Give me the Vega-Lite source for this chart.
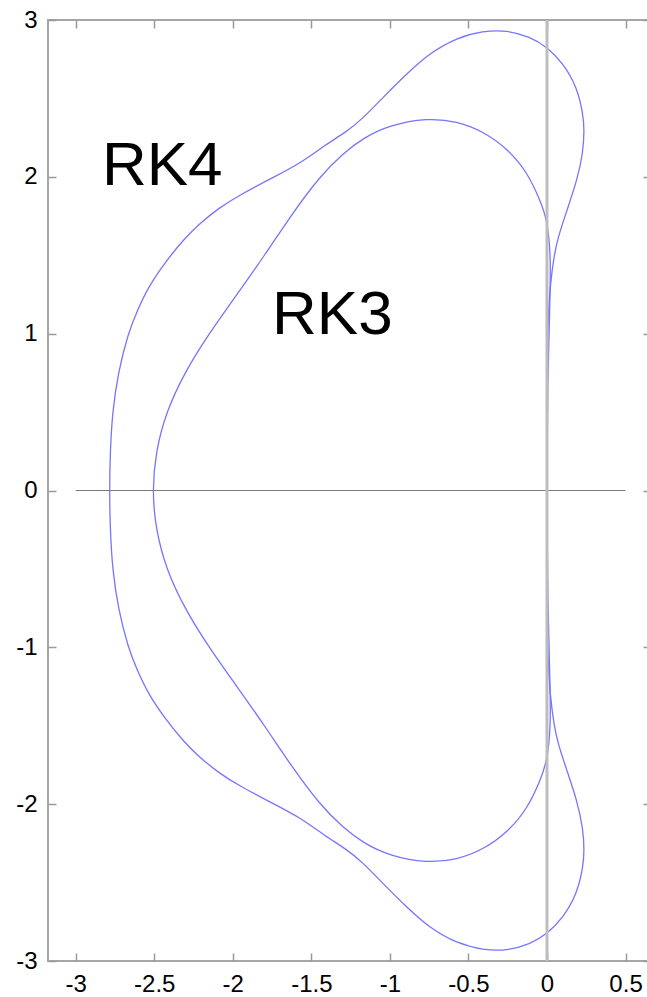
{
  "$schema": "https://vega.github.io/schema/vega-lite/v6.json",
  "width": 603,
  "height": 941,
  "autosize": "none",
  "padding": {"left": 48, "top": 20, "right": 0, "bottom": 36},
  "background": "white",
  "config": {
    "view": {"stroke": "#a6a6a6", "strokeWidth": 2},
    "axis": {"grid": false, "domain": false, "tickColor": "#999999", "tickWidth": 1.5, "tickSize": -8, "labelFont": "Liberation Sans", "labelFontSize": 24, "labelColor": "#000000", "labelFlush": false, "labelOverlap": false, "title": null}
  },
  "datasets": {
    "curves": [
      {"curve": "RK4", "i": 0, "x": 0, "y": 0},
      {"curve": "RK4", "i": 1, "x": 0.0005, "y": -0.5},
      {"curve": "RK4", "i": 2, "x": 0.002, "y": -0.8},
      {"curve": "RK4", "i": 3, "x": 0.006, "y": -1.084},
      {"curve": "RK4", "i": 4, "x": 0.019, "y": -1.295},
      {"curve": "RK4", "i": 5, "x": 0.045, "y": -1.5},
      {"curve": "RK4", "i": 6, "x": 0.07, "y": -1.614},
      {"curve": "RK4", "i": 7, "x": 0.127, "y": -1.786},
      {"curve": "RK4", "i": 8, "x": 0.191, "y": -1.977},
      {"curve": "RK4", "i": 9, "x": 0.229, "y": -2.149},
      {"curve": "RK4", "i": 10, "x": 0.238, "y": -2.3},
      {"curve": "RK4", "i": 11, "x": 0.229, "y": -2.404},
      {"curve": "RK4", "i": 12, "x": 0.191, "y": -2.572},
      {"curve": "RK4", "i": 13, "x": 0.102, "y": -2.725},
      {"curve": "RK4", "i": 14, "x": 0, "y": -2.828},
      {"curve": "RK4", "i": 15, "x": -0.108, "y": -2.893},
      {"curve": "RK4", "i": 16, "x": -0.255, "y": -2.935},
      {"curve": "RK4", "i": 17, "x": -0.407, "y": -2.93},
      {"curve": "RK4", "i": 18, "x": -0.573, "y": -2.888},
      {"curve": "RK4", "i": 19, "x": -0.745, "y": -2.79},
      {"curve": "RK4", "i": 20, "x": -0.891, "y": -2.659},
      {"curve": "RK4", "i": 21, "x": -1.044, "y": -2.506},
      {"curve": "RK4", "i": 22, "x": -1.178, "y": -2.366},
      {"curve": "RK4", "i": 23, "x": -1.28, "y": -2.285},
      {"curve": "RK4", "i": 24, "x": -1.41, "y": -2.204},
      {"curve": "RK4", "i": 25, "x": -1.572, "y": -2.085},
      {"curve": "RK4", "i": 26, "x": -1.744, "y": -1.996},
      {"curve": "RK4", "i": 27, "x": -1.964, "y": -1.88},
      {"curve": "RK4", "i": 28, "x": -2.09, "y": -1.8},
      {"curve": "RK4", "i": 29, "x": -2.209, "y": -1.703},
      {"curve": "RK4", "i": 30, "x": -2.314, "y": -1.6},
      {"curve": "RK4", "i": 31, "x": -2.434, "y": -1.45},
      {"curve": "RK4", "i": 32, "x": -2.536, "y": -1.3},
      {"curve": "RK4", "i": 33, "x": -2.607, "y": -1.15},
      {"curve": "RK4", "i": 34, "x": -2.667, "y": -1.0},
      {"curve": "RK4", "i": 35, "x": -2.73, "y": -0.75},
      {"curve": "RK4", "i": 36, "x": -2.766, "y": -0.5},
      {"curve": "RK4", "i": 37, "x": -2.78, "y": -0.25},
      {"curve": "RK4", "i": 38, "x": -2.785, "y": 0},
      {"curve": "RK4", "i": 39, "x": -2.78, "y": 0.25},
      {"curve": "RK4", "i": 40, "x": -2.766, "y": 0.5},
      {"curve": "RK4", "i": 41, "x": -2.73, "y": 0.75},
      {"curve": "RK4", "i": 42, "x": -2.667, "y": 1.0},
      {"curve": "RK4", "i": 43, "x": -2.607, "y": 1.15},
      {"curve": "RK4", "i": 44, "x": -2.536, "y": 1.3},
      {"curve": "RK4", "i": 45, "x": -2.434, "y": 1.45},
      {"curve": "RK4", "i": 46, "x": -2.314, "y": 1.6},
      {"curve": "RK4", "i": 47, "x": -2.209, "y": 1.703},
      {"curve": "RK4", "i": 48, "x": -2.09, "y": 1.8},
      {"curve": "RK4", "i": 49, "x": -1.964, "y": 1.88},
      {"curve": "RK4", "i": 50, "x": -1.744, "y": 1.996},
      {"curve": "RK4", "i": 51, "x": -1.572, "y": 2.085},
      {"curve": "RK4", "i": 52, "x": -1.41, "y": 2.204},
      {"curve": "RK4", "i": 53, "x": -1.28, "y": 2.285},
      {"curve": "RK4", "i": 54, "x": -1.178, "y": 2.366},
      {"curve": "RK4", "i": 55, "x": -1.044, "y": 2.506},
      {"curve": "RK4", "i": 56, "x": -0.891, "y": 2.659},
      {"curve": "RK4", "i": 57, "x": -0.745, "y": 2.79},
      {"curve": "RK4", "i": 58, "x": -0.573, "y": 2.888},
      {"curve": "RK4", "i": 59, "x": -0.407, "y": 2.93},
      {"curve": "RK4", "i": 60, "x": -0.255, "y": 2.935},
      {"curve": "RK4", "i": 61, "x": -0.108, "y": 2.893},
      {"curve": "RK4", "i": 62, "x": 0, "y": 2.828},
      {"curve": "RK4", "i": 63, "x": 0.102, "y": 2.725},
      {"curve": "RK4", "i": 64, "x": 0.191, "y": 2.572},
      {"curve": "RK4", "i": 65, "x": 0.229, "y": 2.404},
      {"curve": "RK4", "i": 66, "x": 0.238, "y": 2.3},
      {"curve": "RK4", "i": 67, "x": 0.229, "y": 2.149},
      {"curve": "RK4", "i": 68, "x": 0.191, "y": 1.977},
      {"curve": "RK4", "i": 69, "x": 0.127, "y": 1.786},
      {"curve": "RK4", "i": 70, "x": 0.07, "y": 1.614},
      {"curve": "RK4", "i": 71, "x": 0.045, "y": 1.5},
      {"curve": "RK4", "i": 72, "x": 0.019, "y": 1.295},
      {"curve": "RK4", "i": 73, "x": 0.006, "y": 1.084},
      {"curve": "RK4", "i": 74, "x": 0.002, "y": 0.8},
      {"curve": "RK4", "i": 75, "x": 0.0005, "y": 0.5},
      {"curve": "RK4", "i": 76, "x": 0, "y": 0},
      {"curve": "RK3", "i": 0, "x": 0, "y": 0},
      {"curve": "RK3", "i": 1, "x": 0.002, "y": -0.4},
      {"curve": "RK3", "i": 2, "x": 0.006, "y": -0.7},
      {"curve": "RK3", "i": 3, "x": 0.012, "y": -0.95},
      {"curve": "RK3", "i": 4, "x": 0.018, "y": -1.2},
      {"curve": "RK3", "i": 5, "x": 0.025, "y": -1.5},
      {"curve": "RK3", "i": 6, "x": 0, "y": -1.732},
      {"curve": "RK3", "i": 7, "x": -0.045, "y": -1.852},
      {"curve": "RK3", "i": 8, "x": -0.124, "y": -2.027},
      {"curve": "RK3", "i": 9, "x": -0.248, "y": -2.176},
      {"curve": "RK3", "i": 10, "x": -0.4, "y": -2.287},
      {"curve": "RK3", "i": 11, "x": -0.573, "y": -2.355},
      {"curve": "RK3", "i": 12, "x": -0.764, "y": -2.375},
      {"curve": "RK3", "i": 13, "x": -0.999, "y": -2.33},
      {"curve": "RK3", "i": 14, "x": -1.166, "y": -2.25},
      {"curve": "RK3", "i": 15, "x": -1.299, "y": -2.149},
      {"curve": "RK3", "i": 16, "x": -1.449, "y": -2.0},
      {"curve": "RK3", "i": 17, "x": -1.632, "y": -1.75},
      {"curve": "RK3", "i": 18, "x": -1.797, "y": -1.5},
      {"curve": "RK3", "i": 19, "x": -1.973, "y": -1.25},
      {"curve": "RK3", "i": 20, "x": -2.152, "y": -1.0},
      {"curve": "RK3", "i": 21, "x": -2.308, "y": -0.75},
      {"curve": "RK3", "i": 22, "x": -2.424, "y": -0.5},
      {"curve": "RK3", "i": 23, "x": -2.49, "y": -0.25},
      {"curve": "RK3", "i": 24, "x": -2.5127, "y": 0},
      {"curve": "RK3", "i": 25, "x": -2.49, "y": 0.25},
      {"curve": "RK3", "i": 26, "x": -2.424, "y": 0.5},
      {"curve": "RK3", "i": 27, "x": -2.308, "y": 0.75},
      {"curve": "RK3", "i": 28, "x": -2.152, "y": 1.0},
      {"curve": "RK3", "i": 29, "x": -1.973, "y": 1.25},
      {"curve": "RK3", "i": 30, "x": -1.797, "y": 1.5},
      {"curve": "RK3", "i": 31, "x": -1.632, "y": 1.75},
      {"curve": "RK3", "i": 32, "x": -1.449, "y": 2.0},
      {"curve": "RK3", "i": 33, "x": -1.299, "y": 2.149},
      {"curve": "RK3", "i": 34, "x": -1.166, "y": 2.25},
      {"curve": "RK3", "i": 35, "x": -0.999, "y": 2.33},
      {"curve": "RK3", "i": 36, "x": -0.764, "y": 2.375},
      {"curve": "RK3", "i": 37, "x": -0.573, "y": 2.355},
      {"curve": "RK3", "i": 38, "x": -0.4, "y": 2.287},
      {"curve": "RK3", "i": 39, "x": -0.248, "y": 2.176},
      {"curve": "RK3", "i": 40, "x": -0.124, "y": 2.027},
      {"curve": "RK3", "i": 41, "x": -0.045, "y": 1.852},
      {"curve": "RK3", "i": 42, "x": 0, "y": 1.732},
      {"curve": "RK3", "i": 43, "x": 0.025, "y": 1.5},
      {"curve": "RK3", "i": 44, "x": 0.018, "y": 1.2},
      {"curve": "RK3", "i": 45, "x": 0.012, "y": 0.95},
      {"curve": "RK3", "i": 46, "x": 0.006, "y": 0.7},
      {"curve": "RK3", "i": 47, "x": 0.002, "y": 0.4},
      {"curve": "RK3", "i": 48, "x": 0, "y": 0}
    ],
    "vline": [{"x": 0, "y": -3, "y2": 3}],
    "hline": [{"x": -3, "x2": 0.5, "y": 0}],
    "labels": [
      {"label": "RK4", "x": -2.833, "y": 1.945},
      {"label": "RK3", "x": -1.75, "y": 0.995}
    ]
  },
  "layer": [
    {
      "data": {"name": "curves"},
      "mark": {"type": "line", "interpolate": "basis", "color": "#7575ff", "strokeWidth": 1.3, "clip": true},
      "encoding": {
        "x": {"field": "x", "type": "quantitative", "scale": {"domain": [-3.176, 0.662], "nice": false, "zero": false},
              "axis": {"orient": "bottom", "values": [-3, -2.5, -2, -1.5, -1, -0.5, 0, 0.5], "labelExpr": "toString(datum.value)", "labelPadding": 19}},
        "y": {"field": "y", "type": "quantitative", "scale": {"domain": [-3, 3], "nice": false, "zero": false},
              "axis": {"orient": "left", "values": [-3, -2, -1, 0, 1, 2, 3], "labelExpr": "toString(datum.value)", "labelPadding": 19}},
        "detail": {"field": "curve"},
        "order": {"field": "i", "type": "quantitative"}
      }
    },
    {
      "data": {"name": "hline"},
      "mark": {"type": "rule", "color": "#7a7a7a", "strokeWidth": 1.2},
      "encoding": {
        "x": {"field": "x", "type": "quantitative", "axis": null},
        "x2": {"field": "x2"},
        "y": {"field": "y", "type": "quantitative", "axis": null}
      }
    },
    {
      "data": {"name": "vline"},
      "mark": {"type": "rule", "color": "#bdbdbd", "strokeWidth": 3},
      "encoding": {
        "x": {"field": "x", "type": "quantitative", "axis": {"orient": "top", "labels": false, "values": [-3, -2.5, -2, -1.5, -1, -0.5, 0, 0.5]}},
        "y": {"field": "y", "type": "quantitative", "axis": {"orient": "right", "labels": false, "values": [-3, -2, -1, 0, 1, 2, 3]}},
        "y2": {"field": "y2"}
      }
    },
    {
      "data": {"name": "labels"},
      "mark": {"type": "text", "font": "Liberation Sans", "fontSize": 62, "align": "left", "baseline": "alphabetic", "color": "#000000"},
      "encoding": {
        "x": {"field": "x", "type": "quantitative", "axis": null},
        "y": {"field": "y", "type": "quantitative", "axis": null},
        "text": {"field": "label"}
      }
    }
  ],
  "resolve": {"axis": {"x": "independent", "y": "independent"}}
}
